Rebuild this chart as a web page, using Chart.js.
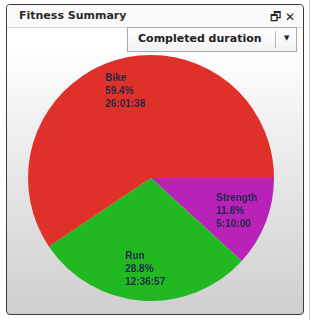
<!DOCTYPE html>
<html>
<head>
<meta charset="utf-8">
<script src="https://cdn.jsdelivr.net/npm/chart.js@4"></script>
<style>
  html, body { margin: 0; padding: 0; width: 314px; height: 320px; background: #fff; overflow: hidden; }
  #panel {
    position: absolute; left: 6px; top: 4px; width: 296px; height: 309px;
    border: 1px solid #3a3a3a; border-radius: 4px;
    background: linear-gradient(to bottom, #ffffff 0px, #ffffff 40px, #f0f0f0 120px, #d0d0d0 300px);
  }
  #head {
    position: absolute; left: 0; top: 0; right: 0; height: 22px;
    border-bottom: 1px solid #d8d8d8; background: #fafafa; border-radius: 4px 4px 0 0;
    font: bold 11px "DejaVu Sans", sans-serif; color: #2a2a2a;
  }
  #title { position: absolute; left: 12px; top: 4px; }
  #icons { position: absolute; right: 8px; top: 3px; font: 12px "DejaVu Sans", sans-serif; color: #222; }
  #drop {
    position: absolute; left: 120px; top: 22px; width: 168px; height: 23px;
    border: 1px solid #a8a8a8; background: linear-gradient(#ffffff, #f2f2f2);
    font: bold 11px "DejaVu Sans", sans-serif; color: #222;
  }
  #drop span.t { position: absolute; left: 10px; top: 4px; }
  #drop span.sep { position: absolute; left: 147px; top: 3px; width: 1px; height: 17px; background: #b8b8b8; }
  #drop span.a { position: absolute; left: 156px; top: 6px; font-size: 7px; }
  #rail { position: absolute; left: 309px; top: 0; width: 1px; height: 320px; background: #c8c8c8; }
  #c { position: absolute; left: 0; top: 0; }
</style>
</head>
<body>
<div id="rail"></div>
<div id="panel">
  <div id="head"><span id="title">Fitness Summary</span><span id="icons">&#x1F5D7; &#x2715;</span></div>
  <div id="drop"><span class="t">Completed duration</span><span class="sep"></span><span class="a">&#x25BC;</span></div>
</div>
<canvas id="c" width="314" height="320"></canvas>
<script>
// slices go clockwise from 3 o'clock
const activities = ["Strength", "Run", "Bike"];
const seconds = [18600, 45417, 93698];
const percents = ["11.8%", "28.8%", "59.4%"];
const durations = ["5:10:00", "12:36:57", "26:01:38"];
const colors = ["#b822b8", "#22b822", "#e0302a"];

const sliceLabels = {
  id: "sliceLabels",
  afterDatasetsDraw(chart) {
    const ctx = chart.ctx;
    const arcs = chart.getDatasetMeta(0).data;
    ctx.save();
    ctx.font = "bold 10px 'Liberation Sans', sans-serif";
    ctx.fillStyle = "#1c2a48";
    ctx.textBaseline = "middle";
    ctx.textAlign = "left";
    arcs.forEach((arc, i) => {
      const mid = (arc.startAngle + arc.endAngle) / 2;
      const r = arc.outerRadius * 0.74;
      const cx = arc.x + Math.cos(mid) * r;
      const cy = arc.y + Math.sin(mid) * r;
      const lines = [activities[i], percents[i], durations[i]];
      let w = 0;
      lines.forEach(l => { w = Math.max(w, ctx.measureText(l).width); });
      const lh = 13;
      lines.forEach((l, j) => {
        ctx.fillText(l, cx - w / 2 + 1, cy + (j - 1) * lh);
      });
    });
    ctx.restore();
  }
};

new Chart(document.getElementById("c").getContext("2d"), {
  type: "pie",
  data: {
    labels: activities,
    datasets: [{
      data: seconds,
      backgroundColor: colors,
      borderWidth: 0
    }]
  },
  options: {
    responsive: false,
    animation: false,
    devicePixelRatio: 1,
    rotation: 90,
    layout: { padding: { left: 28, right: 40, top: 55, bottom: 19 } },
    plugins: {
      legend: { display: false },
      tooltip: { enabled: false }
    }
  },
  plugins: [sliceLabels]
});
</script>
</body>
</html>
